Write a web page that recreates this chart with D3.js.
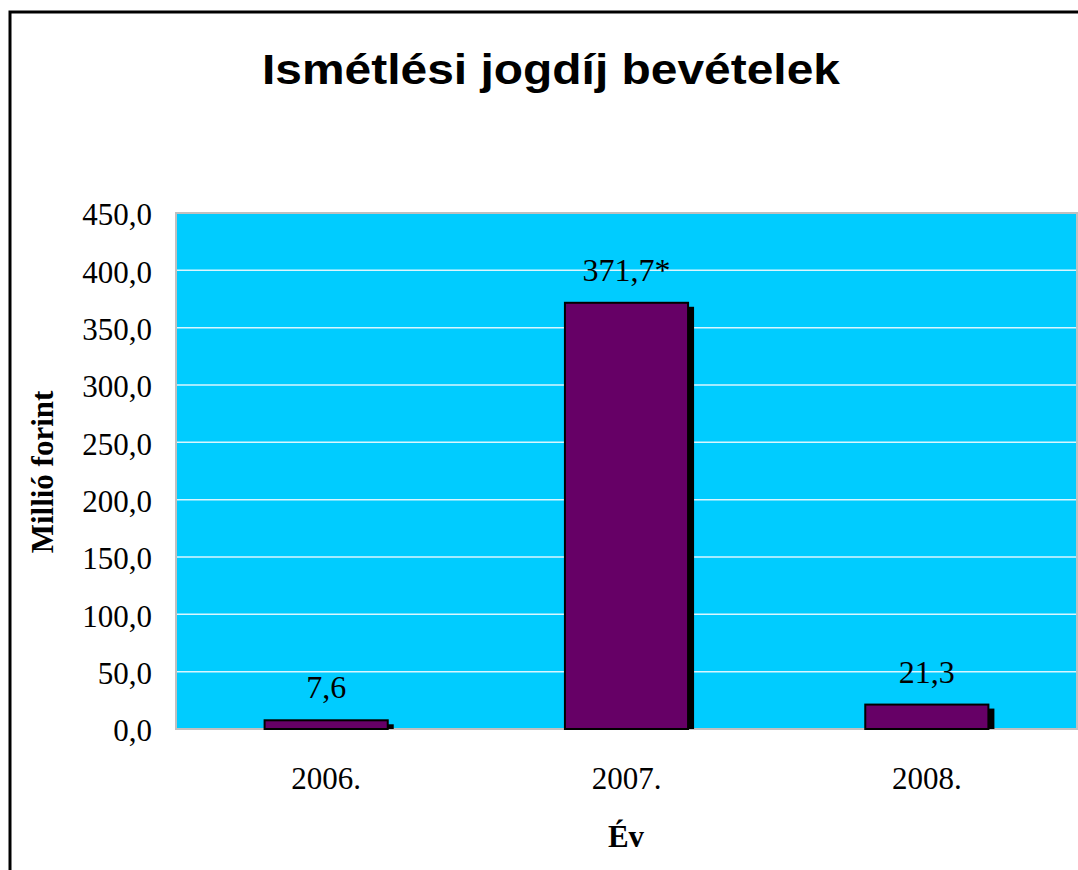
<!DOCTYPE html>
<html>
<head>
<meta charset="utf-8">
<script src="https://cdn.jsdelivr.net/npm/d3@7"></script>
<style>
  body { margin: 0; background: #fff; }
  svg { display: block; }
</style>
</head>
<body>
<div id="chart"></div>
<script>
// data
const years = ["2006.", "2007.", "2008."];
const values = [7.6, 371.7, 21.3];
const valueLabels = ["7,6", "371,7*", "21,3"];
const yTicks = [0, 50, 100, 150, 200, 250, 300, 350, 400, 450];

const W = 1078, H = 870;
const plot = { left: 176, top: 213, right: 1077, bottom: 729 };
const serif = '"Liberation Serif", "Times New Roman", serif';

const svg = d3.select('#chart').append('svg')
    .attr('width', W)
    .attr('height', H);

// outer frame
svg.append('rect')
    .attr('x', 10).attr('y', 12)
    .attr('width', W + 20).attr('height', H + 20)
    .attr('fill', '#fff')
    .attr('stroke', '#000')
    .attr('stroke-width', 3);

const xScale = d3.scaleBand()
    .domain(years)
    .range([plot.left, plot.right])
    .paddingInner(0.59)
    .paddingOuter(0.295);

const yScale = d3.scaleLinear()
    .domain([0, 450])
    .range([plot.bottom, plot.top]);

// plot background
svg.append('rect')
    .attr('x', plot.left).attr('y', plot.top)
    .attr('width', plot.right - plot.left)
    .attr('height', plot.bottom - plot.top)
    .attr('fill', '#00ccff')
    .attr('stroke', '#c0c0c0')
    .attr('stroke-width', 2);

// gridlines
svg.append('g')
    .selectAll('line')
    .data(yTicks.filter(d => d > 0 && d < 450))
    .join('line')
    .attr('x1', plot.left + 1).attr('x2', plot.right - 1)
    .attr('y1', d => yScale(d)).attr('y2', d => yScale(d))
    .attr('stroke', '#d8f6ff')
    .attr('stroke-width', 1.5);

// y axis
const yAxis = d3.axisLeft(yScale)
    .tickValues(yTicks)
    .tickSize(0)
    .tickPadding(24)
    .tickFormat(d => d3.format('.1f')(d).replace('.', ','));

svg.append('g')
    .attr('transform', `translate(${plot.left}, 0)`)
    .call(yAxis)
    .call(g => g.select('.domain').remove())
    .selectAll('text')
    .attr('dy', '0.38em')
    .attr('font-family', serif)
    .attr('font-size', 31)
    .attr('fill', '#000');

// x axis
const xAxis = d3.axisBottom(xScale).tickSize(0).tickPadding(38);
svg.append('g')
    .attr('transform', `translate(0, ${plot.bottom})`)
    .call(xAxis)
    .call(g => g.select('.domain').remove())
    .selectAll('text')
    .attr('font-family', serif)
    .attr('font-size', 31)
    .attr('fill', '#000');

const data = years.map((y, i) => ({ year: y, value: values[i], label: valueLabels[i] }));

// bar shadows
svg.append('g')
    .selectAll('rect')
    .data(data)
    .join('rect')
    .attr('x', d => xScale(d.year) + 6)
    .attr('y', d => yScale(d.value) + 4)
    .attr('width', xScale.bandwidth())
    .attr('height', d => plot.bottom - yScale(d.value) - 4)
    .attr('fill', '#000');

// bars
svg.append('g')
    .selectAll('rect')
    .data(data)
    .join('rect')
    .attr('x', d => xScale(d.year))
    .attr('y', d => yScale(d.value))
    .attr('width', xScale.bandwidth())
    .attr('height', d => plot.bottom - yScale(d.value))
    .attr('fill', '#660066')
    .attr('stroke', '#000')
    .attr('stroke-width', 2);

// value labels
svg.append('g')
    .selectAll('text')
    .data(data)
    .join('text')
    .attr('x', d => xScale(d.year) + xScale.bandwidth() / 2)
    .attr('y', d => yScale(d.value) - 22)
    .attr('text-anchor', 'middle')
    .attr('font-family', serif)
    .attr('font-size', 32)
    .text(d => d.label);

// title
svg.append('text')
    .attr('x', 551).attr('y', 84)
    .attr('text-anchor', 'middle')
    .attr('font-family', '"Liberation Sans", Arial, sans-serif')
    .attr('font-weight', 'bold')
    .attr('font-size', 42)
    .attr('textLength', 578)
    .attr('lengthAdjust', 'spacingAndGlyphs')
    .text('Ismétlési jogdíj bevételek');

// axis titles
svg.append('text')
    .attr('x', 626).attr('y', 847)
    .attr('text-anchor', 'middle')
    .attr('font-family', serif)
    .attr('font-weight', 'bold')
    .attr('font-size', 31)
    .text('Év');

svg.append('text')
    .attr('transform', 'translate(53, 472) rotate(-90)')
    .attr('text-anchor', 'middle')
    .attr('font-family', serif)
    .attr('font-weight', 'bold')
    .attr('font-size', 31)
    .text('Millió forint');
</script>
</body>
</html>
